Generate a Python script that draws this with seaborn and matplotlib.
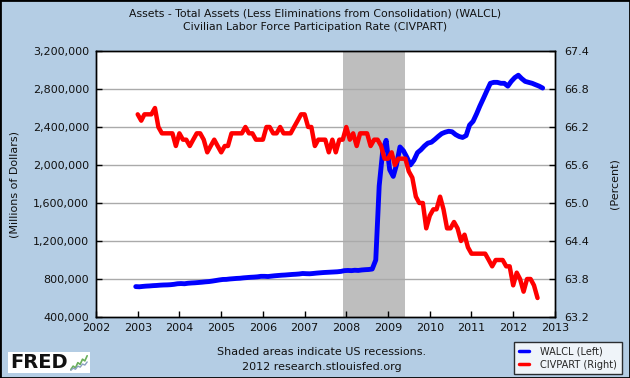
import numpy as np
import pandas as pd
import matplotlib.pyplot as plt
import matplotlib.dates as mdates
import seaborn as sns
from matplotlib.patches import Rectangle
from matplotlib.lines import Line2D
from matplotlib.ticker import FuncFormatter, FixedLocator

sns.set_style("white")
plt.rcParams["font.family"] = ["DejaVu Sans"]

BG = "#B4CDE4"

# %% Data
# WALCL, mid-month readings, thousands of millions -> scaled below
walcl_start, walcl_end = "2002-12-01", "2012-09-01"
walcl_2002 = [720]
walcl_2003 = [718, 722, 725, 727, 730, 732, 735, 737, 738, 740, 744, 750]
walcl_2004 = [752, 750, 755, 758, 760, 763, 766, 770, 773, 778, 784, 790]
walcl_2005 = [795, 796, 800, 803, 806, 808, 812, 815, 818, 820, 823, 828]
walcl_2006 = [828, 826, 830, 834, 837, 840, 842, 845, 848, 850, 853, 858]
walcl_2007 = [856, 855, 858, 862, 865, 868, 870, 872, 874, 876, 880, 888]
walcl_2008 = [890, 888, 892, 890, 895, 898, 900, 905, 1000, 1780, 2150, 2260]
walcl_2009 = [1950, 1880, 2000, 2190, 2150, 2080, 2000, 2050, 2130, 2160, 2200, 2230]
walcl_2010 = [2240, 2270, 2300, 2330, 2345, 2355, 2350, 2320, 2300, 2290, 2310, 2420]
walcl_2011 = [2460, 2540, 2620, 2700, 2780, 2860, 2870, 2870, 2860, 2860, 2830, 2880]
walcl_2012 = [2920, 2945, 2910, 2880, 2870, 2860, 2845, 2830, 2810]

# CIVPART, monthly, percent
civpart_start, civpart_end = "2003-01-01", "2012-08-01"
civpart_2003 = [66.4, 66.3, 66.4, 66.4, 66.4, 66.5, 66.2, 66.1, 66.1, 66.1, 66.1, 65.9]
civpart_2004 = [66.1, 66.0, 66.0, 65.9, 66.0, 66.1, 66.1, 66.0, 65.8, 65.9, 66.0, 65.9]
civpart_2005 = [65.8, 65.9, 65.9, 66.1, 66.1, 66.1, 66.1, 66.2, 66.1, 66.1, 66.0, 66.0]
civpart_2006 = [66.0, 66.2, 66.2, 66.1, 66.1, 66.2, 66.1, 66.1, 66.1, 66.2, 66.3, 66.4]
civpart_2007 = [66.4, 66.2, 66.2, 65.9, 66.0, 66.0, 66.0, 65.8, 66.0, 65.8, 66.0, 66.0]
civpart_2008 = [66.2, 66.0, 66.1, 65.9, 66.1, 66.1, 66.1, 65.9, 66.0, 66.0, 65.9, 65.7]
civpart_2009 = [65.7, 65.8, 65.6, 65.7, 65.7, 65.7, 65.5, 65.4, 65.1, 65.0, 65.0, 64.6]
civpart_2010 = [64.8, 64.9, 64.9, 65.1, 64.9, 64.6, 64.6, 64.7, 64.6, 64.4, 64.5, 64.3]
civpart_2011 = [64.2, 64.2, 64.2, 64.2, 64.2, 64.1, 64.0, 64.1, 64.1, 64.1, 64.0, 64.0]
civpart_2012 = [63.7, 63.9, 63.8, 63.6, 63.8, 63.8, 63.7, 63.5]

recession = ("2007-12-01", "2009-06-01")
left_ticks = [400000, 800000, 1200000, 1600000, 2000000, 2400000, 2800000, 3200000]
right_ticks = [63.2, 63.8, 64.4, 65.0, 65.6, 66.2, 66.8, 67.4]
years = list(range(2002, 2014))
logo_icon = [1, 3, 2, 5, 4, 7, 6, 9]

# %% Build frames
walcl_vals = (walcl_2002 + walcl_2003 + walcl_2004 + walcl_2005 + walcl_2006
              + walcl_2007 + walcl_2008 + walcl_2009 + walcl_2010 + walcl_2011 + walcl_2012)
walcl = pd.DataFrame({
    "date": pd.date_range(walcl_start, walcl_end, freq="MS") + pd.Timedelta(days=14),
    "value": np.array(walcl_vals) * 1000,
})
civ_vals = (civpart_2003 + civpart_2004 + civpart_2005 + civpart_2006 + civpart_2007
            + civpart_2008 + civpart_2009 + civpart_2010 + civpart_2011 + civpart_2012)
civpart = pd.DataFrame({
    "date": pd.date_range(civpart_start, civpart_end, freq="MS"),
    "value": civ_vals,
})

# %% Plot
fig = plt.figure(figsize=(6.3, 3.78), dpi=100, facecolor=BG)
ax = fig.add_axes([96 / 630, 1 - 317 / 378, 459 / 630, 266 / 378])
ax.set_facecolor("white")
ax2 = ax.twinx()

ax.axvspan(pd.Timestamp(recession[0]), pd.Timestamp(recession[1]),
           color="#BEBEBE", lw=0, zorder=0)
for t in left_ticks[1:-1]:
    ax.axhline(t, color="#AAAAAA", lw=1, zorder=0.5)

sns.lineplot(data=walcl, x="date", y="value", ax=ax, color="#0000FF", lw=3.5, zorder=3)
sns.lineplot(data=civpart, x="date", y="value", ax=ax2, color="#FF0000", lw=3.2, zorder=3)

ax.set_xlim(pd.Timestamp("2002-01-01"), pd.Timestamp("2013-01-01"))
ax.set_ylim(left_ticks[0], left_ticks[-1])
ax2.set_ylim(right_ticks[0], right_ticks[-1])
ax.xaxis.set_major_locator(FixedLocator([mdates.date2num(pd.Timestamp(f"{y}-01-01")) for y in years]))
ax.xaxis.set_major_formatter(FuncFormatter(lambda v, p: mdates.num2date(v).strftime("%Y")))
ax.set_yticks(left_ticks)
ax.yaxis.set_major_formatter(FuncFormatter(lambda v, p: f"{int(v):,}"))
ax2.set_yticks(right_ticks)
ax2.yaxis.set_major_formatter(FuncFormatter(lambda v, p: f"{v:.1f}"))

for a in (ax, ax2):
    a.set_xlabel("")
    a.set_ylabel("")
    for s in a.spines.values():
        s.set_color("black")
        s.set_linewidth(1)
    a.tick_params(direction="in", length=4, width=1, color="black",
                  labelsize=8, labelcolor="#111111")
ax.tick_params(axis="x", bottom=True, pad=4)
ax.tick_params(axis="y", left=True, pad=5)
ax2.tick_params(axis="y", right=True, pad=7)
ax2.patch.set_visible(False)

fig.text(15 / 630, 1 - 184 / 378, "(Millions of Dollars)", rotation=90,
         ha="center", va="center", fontsize=8, color="#111111")
fig.text(615 / 630, 1 - 184 / 378, "(Percent)", rotation=90,
         ha="center", va="center", fontsize=8, color="#111111")

fig.text(0.5, 1 - 13 / 378, "Assets - Total Assets (Less Eliminations from Consolidation) (WALCL)",
         ha="center", va="center", fontsize=7.8, color="#111111")
fig.text(0.5, 1 - 27 / 378, "Civilian Labor Force Participation Rate (CIVPART)",
         ha="center", va="center", fontsize=7.8, color="#111111")
fig.text(322 / 630, 1 - 352 / 378, "Shaded areas indicate US recessions.",
         ha="center", va="center", fontsize=8, color="#111111")
fig.text(322 / 630, 1 - 367 / 378, "2012 research.stlouisfed.org",
         ha="center", va="center", fontsize=8, color="#111111")

handles = [Line2D([], [], color="#0000FF", lw=2.5, label="WALCL (Left)"),
           Line2D([], [], color="#FF0000", lw=2.5, label="CIVPART (Right)")]
leg = fig.legend(handles=handles, loc="center", bbox_to_anchor=(568 / 630, 1 - 358 / 378),
                 fontsize=7, handlelength=1.0, handletextpad=1.2, frameon=True,
                 fancybox=False, borderpad=0.45, labelspacing=0.35)
leg.get_frame().set_edgecolor("black")
leg.get_frame().set_linewidth(1)

# FRED logo
fig.patches.append(Rectangle((8 / 630, 1 - 373 / 378), 82 / 630, 21 / 378,
                             transform=fig.transFigure, facecolor="white",
                             edgecolor="none", zorder=-1))
fig.text(10 / 630, 1 - 362 / 378, "FRED", fontsize=14, fontweight="bold",
         ha="left", va="center", color="#111111")
icon = fig.add_axes([70 / 630, 1 - 371 / 378, 18 / 630, 16 / 378], zorder=5)
icon.plot(range(len(logo_icon)), logo_icon, color="#6AAF5A", lw=1.2)
icon.plot(range(len(logo_icon)), [v * 0.6 for v in logo_icon], color="#8AA0C0", lw=1)
icon.set_facecolor("white")
icon.set_xticks([])
icon.set_yticks([])
for s in icon.spines.values():
    s.set_visible(False)

fig.patches.append(Rectangle((0, 0), 1, 1, transform=fig.transFigure,
                             facecolor="none", edgecolor="black", lw=2))

fig.savefig("out.png", dpi=100, facecolor=BG)
